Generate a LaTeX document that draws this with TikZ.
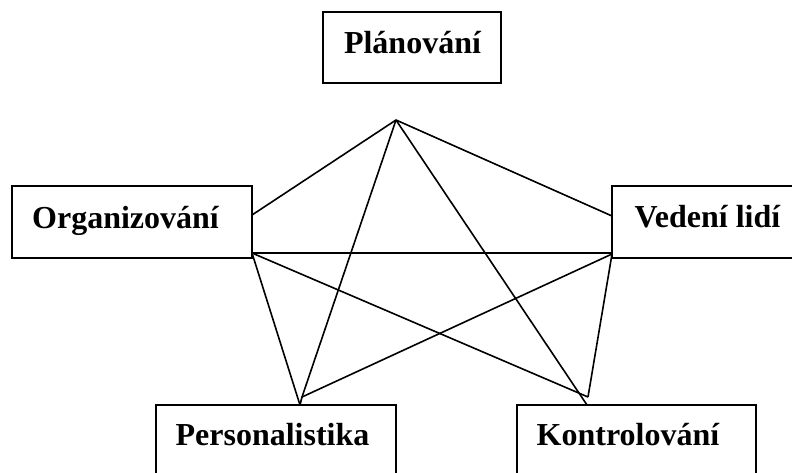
\documentclass[tikz,border=0pt]{standalone}
\usepackage{fontspec}
\setmainfont{Liberation Serif}
\begin{document}
\begin{tikzpicture}[x=1pt,y=-1pt,
  box/.style={draw, line width=2pt, rectangle, inner sep=0pt},
  lbl/.style={anchor=base, inner sep=0pt, font=\fontsize{32}{38}\selectfont\bfseries},
  conn/.style={line width=1.6pt}]
\clip (0,0) rectangle (792,472);
\fill[white] (0,0) rectangle (792,472);
% boxes
\node[box, minimum width=178pt, minimum height=71pt] (plan) at (412,47.5) {};
\node[box, minimum width=240pt, minimum height=72pt] (org) at (132,222) {};
\node[box, minimum width=200pt, minimum height=72pt] (ved) at (712,222) {};
\node[box, minimum width=240pt, minimum height=80pt] (pers) at (276,445) {};
\node[box, minimum width=239pt, minimum height=80pt] (kont) at (636.5,445) {};
% labels
\node[lbl] (planT) at (412.5,53) {Plánování};
\node[lbl] (orgT) at (125.5,228) {Organizování};
\node[lbl] (vedT) at (707.5,227) {Vedení lidí};
\node[lbl] (persT) at (272.5,445) {Personalistika};
\node[lbl] (kontT) at (628,445) {Kontrolování};
% connector points
\coordinate (A) at (396,120);
\coordinate (O1) at (252,215);
\coordinate (O2) at (252,253);
\coordinate (V1) at (612,216);
\coordinate (V2) at (612,254);
\coordinate (V3) at (612,253);
\coordinate (P1) at (302,397);
\coordinate (P2) at (300,405);
\coordinate (K1) at (588,397);
\coordinate (K2) at (587,405);
% connectors
\draw[conn] (A) -- (O1);
\draw[conn] (A) -- (V1);
\draw[conn] (A) -- (P1);
\draw[conn] (A) -- (K2);
\draw[conn] (O2) -- (V3);
\draw[conn] (O2) -- (P2);
\draw[conn] (O2) -- (K1);
\draw[conn] (V2) -- (P1);
\draw[conn] (V2) -- (K1);
\draw[conn] (P1) -- (P2);
\end{tikzpicture}
\end{document}
